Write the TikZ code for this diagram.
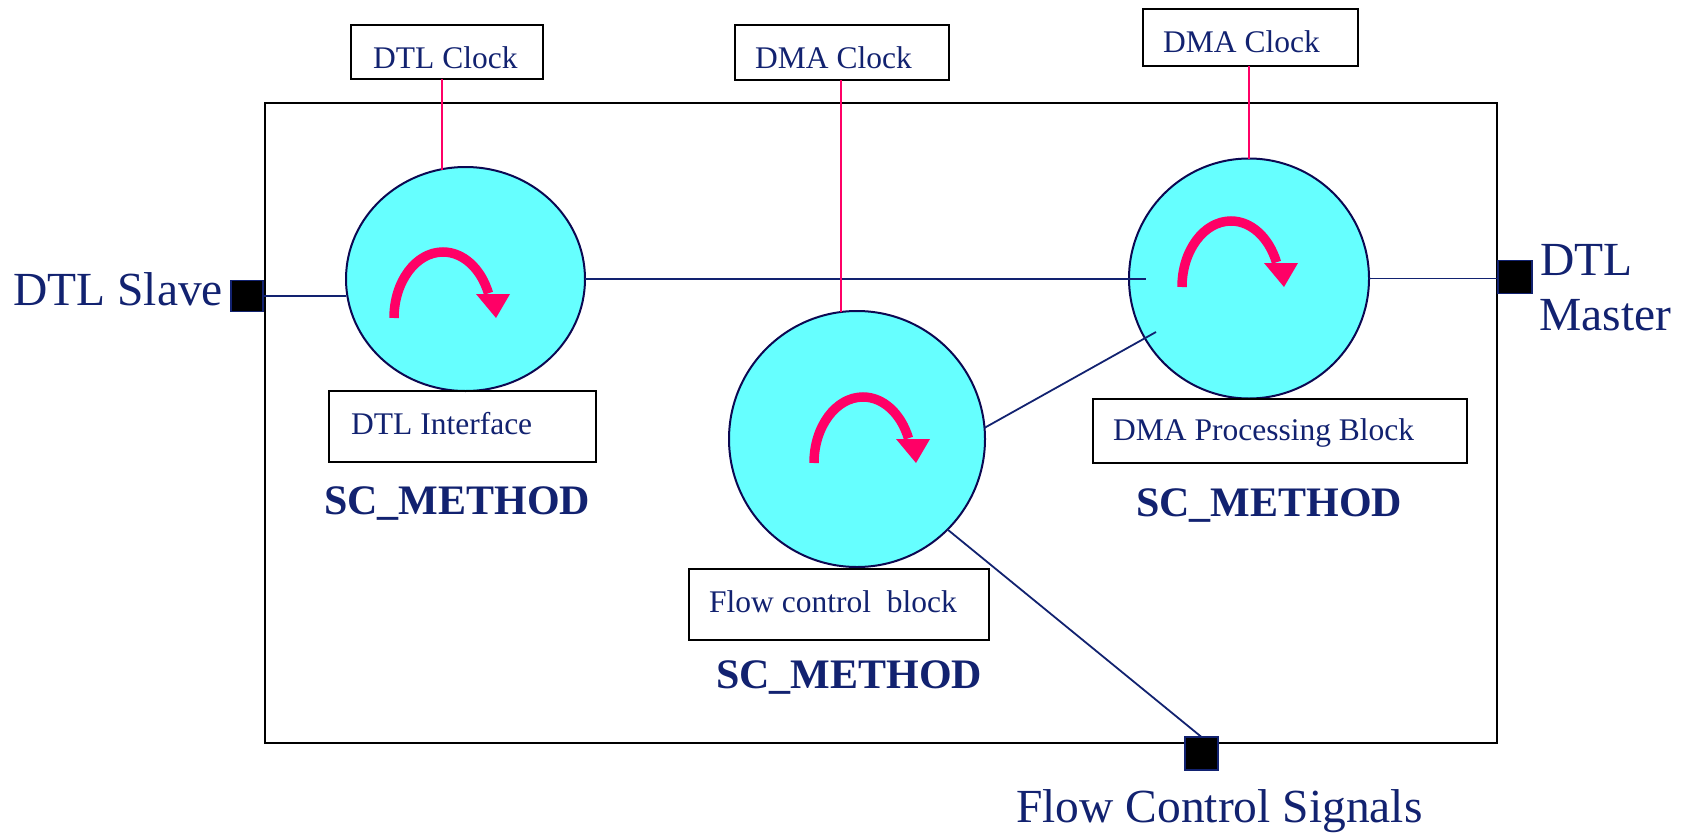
\documentclass[tikz,border=0pt]{standalone}
\usepackage{fontspec}
\setmainfont{Liberation Serif}
\usetikzlibrary{shapes.geometric,calc}
\definecolor{navy}{RGB}{18,34,112}
\definecolor{rim}{RGB}{12,8,82}
\definecolor{cyanfill}{RGB}{102,255,255}
\definecolor{pinkc}{RGB}{255,0,102}
\tikzset{
  lbl/.style={text=navy, inner sep=0, anchor=base west, font=\fontsize{31.5}{36}\selectfont},
  big/.style={text=navy, inner sep=0, anchor=base west, font=\fontsize{47.5}{55}\selectfont},
  scm/.style={text=navy, inner sep=0, anchor=base west, font=\fontsize{42}{48}\selectfont\bfseries},
  tbox/.style={draw=black, line width=2.2pt, inner sep=0, outer sep=0},
  proc/.style={draw=rim, fill=cyanfill, line width=2pt, inner sep=0, outer sep=0},
  port/.style={draw=navy, fill=black, line width=1.6pt, inner sep=0, outer sep=0},
  conn/.style={draw=navy, line width=1.8pt},
  clk/.style={draw=pinkc, line width=2pt},
  spin/.pic={
    \draw[pinkc, line width=9.5pt] (0,0) arc[start angle=180, end angle=338, x radius=49, y radius=66];
    \fill[pinkc] (82,-24) -- (116,-24) -- (102,0) -- cycle;
  }
}
\begin{document}
\begin{tikzpicture}[x=1pt,y=-1pt]
\useasboundingbox (0,0) rectangle (1684,835);
% system box
\node[draw=black, line width=2pt, inner sep=0, outer sep=0, minimum width=1232, minimum height=640] (sys) at (881,423) {};
% clock boxes
\node[tbox, minimum width=192, minimum height=54] (dtlclk) at (447,52) {};
\node[lbl] (tdtlclk) at (373,68) {DTL Clock};
\node[tbox, minimum width=214, minimum height=55] (dmaclkA) at (842,52.5) {};
\node[lbl] (tdmaclkA) at (755,68) {DMA Clock};
\node[tbox, minimum width=215, minimum height=57] (dmaclkB) at (1250.5,37.5) {};
\node[lbl] (tdmaclkB) at (1163,52) {DMA Clock};
% processes
\node[proc, ellipse, minimum width=239, minimum height=224] (c1) at (465.5,279) {};
\node[proc, circle, minimum size=256] (fc) at (857,439) {};
\node[proc, circle, minimum size=240] (c3) at (1249,278.5) {};
\pic at ($(c1.center)+(-71.5,39)$) {spin};
\pic at ($(fc.center)+(-43,24)$) {spin};
\pic at ($(c3.center)+(-67,8.5)$) {spin};
% label boxes
\node[tbox, minimum width=267, minimum height=71] (dtlif) at (462.5,426.5) {};
\node[lbl] (tdtlif) at (351,434) {DTL Interface};
\node[tbox, minimum width=374, minimum height=64] (dmapb) at (1280,431) {};
\node[lbl] (tdmapb) at (1113,440) {DMA Processing Block};
\node[tbox, minimum width=300, minimum height=71] (fcb) at (839,604.5) {};
\node[lbl] (tfcb) at (709,612) {Flow control~ block};
% SC_METHOD labels
\node[scm] (m1) at (324,514) {SC\_METHOD};
\node[scm] (m2) at (716,688) {SC\_METHOD};
\node[scm] (m3) at (1136,516) {SC\_METHOD};
% ports
\node[port, minimum width=32, minimum height=31] (slave) at (247,296) {};
\node[port, minimum width=34, minimum height=33] (master) at (1515,277) {};
\node[port, minimum width=33, minimum height=33] (fcs) at (1201.5,753.5) {};
\node[big] (tslave) at (13,305) {DTL Slave};
\node[big] (tdtl) at (1540,275) {DTL};
\node[big] (tmaster) at (1539,330) {Master};
\node[big] (tfcs) at (1016,822) {Flow Control Signals};
% connectors
\coordinate (c3inA) at (1146,279);
\coordinate (c3inB) at (1156,332);
\coordinate (fctop) at ($(fc.center)+(-16,-127)$);
\coordinate (c1top) at ($(c1.center)+(-24,-109.5)$);
\draw[conn] (c1.east) -- (c3inA);
\draw[conn] (fc.5) -- (c3inB);
\draw[conn] (fc.-45) -- (fcs.north);
\draw[conn] (c3.east) -- (c3.east -| master.west);
\draw[conn] (slave.east) -- (slave.east -| c1.west);
\draw[clk] (c1top |- dtlclk.south) -- (c1top);
\draw[clk] (fctop |- dmaclkA.south) -- (fctop);
\draw[clk] (c3.north |- dmaclkB.south) -- (c3.north);
\end{tikzpicture}
\end{document}
